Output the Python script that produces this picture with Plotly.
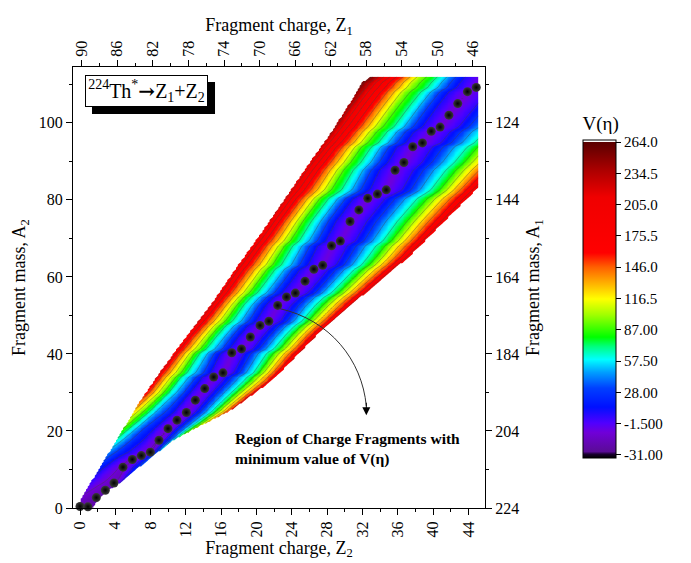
import numpy as np
import plotly.graph_objects as go

# ---- minimum-V(eta) fragments (dots) ----
dot_z2 = [0.0, 0.9, 1.85, 2.87, 3.85, 4.87, 5.93, 6.95, 7.97, 8.95,
          9.97, 10.99, 12.05, 13.07, 14.13, 15.15, 16.2, 17.2, 18.3, 19.3,
          20.4, 21.4, 22.4, 23.4, 24.4, 25.5, 26.5, 27.5, 28.5, 29.5,
          30.6, 31.6, 32.6, 33.7, 34.7, 35.7, 36.7, 37.7, 38.8, 39.8,
          40.8, 41.8, 42.8, 43.9, 44.9, 45.9]
dot_a2 = [0.4, 0.3, 2.7, 4.6, 6.5, 10.6, 12.6, 13.6, 14.5, 17.6,
          20.6, 22.8, 24.8, 28.0, 31.0, 34.0, 35.1, 40.3, 41.3, 44.4,
          47.4, 48.5, 52.6, 54.8, 55.8, 58.9, 62.0, 63.0, 68.1, 69.3,
          74.4, 77.4, 80.4, 81.5, 82.6, 87.7, 89.7, 93.8, 94.8, 97.8,
          98.9, 102.0, 105.0, 108.1, 109.2, 112.5]

# ---- wedge boundaries of the V(eta) map (A2 -> Z2) ----
upper_a = [0, 2.9, 10.6, 19.3, 28, 36.6, 45.3, 53.9, 62.6, 71.2, 79.9, 88.6, 97.2, 105.9, 110.5, 112]
upper_z = [-0.3, 0.15, 2.2, 4.5, 6.8, 9.4, 12.2, 15.1, 17.7, 20.4, 23.0, 25.6, 28.3, 30.7, 31.9, 32.8]
lower_a = [0, 3.4, 6.4, 9.9, 13.3, 16.8, 19.6, 22.4, 25.5, 33.2, 45.5, 55, 65.3, 83.4, 93, 112]
lower_z = [1.5, 2.6, 4.5, 6.4, 8.3, 10.2, 12.3, 14.7, 17.3, 21.9, 27.2, 32, 37.4, 45.3, 49.5, 57.8]
z2_max = 45.3
a2_max = 112

vmin_a = [0, 10, 30, 60, 90, 112]
vmin_v = [-25, -14, -10, -9, -10, -12]
edge_up_a = [0, 3, 10, 15, 19, 24, 30, 50, 70, 90, 105, 112]
edge_up_v = [-20, -12, 15, 45, 75, 115, 165, 195, 205, 220, 240, 255]
edge_lo_a = [0, 2, 8, 14, 18, 22, 26, 40, 60, 83, 100, 112]
edge_lo_v = [-22, -15, 20, 55, 90, 135, 175, 190, 195, 200, 190, 180]
prof_u = [0, 0.17, 0.37, 0.56, 0.71, 0.85, 1.0]
prof_f = [0, 0.08, 0.27, 0.42, 0.60, 0.78, 1.0]

# ---- tick labels ----
z2_ticks = list(range(0, 45, 4))
z1_ticks = list(range(90, 45, -4))
a2_ticks = list(range(0, 101, 20))
a1_ticks = list(range(124, 225, 20))
cb_vals = [-31.0, -1.5, 28.0, 57.5, 87.0, 116.5, 146.0, 175.5, 205.0, 234.5, 264.0]
cb_text = ["-31.00", "-1.500", "28.00", "57.50", "87.00", "116.5", "146.0", "175.5", "205.0", "234.5", "264.0"]

# ---- build the map ----
Zg = np.arange(-0.5, z2_max + 0.001, 0.2)
Ag = np.arange(0, a2_max + 0.001, 0.4)
ZZ, AA = np.meshgrid(Zg, Ag)
valley_a = [0.0] + dot_a2[2:]
valley_z = [0.5] + dot_z2[2:]
zv = np.interp(AA, valley_a, valley_z)
zl = np.interp(AA, upper_a, upper_z)
zr = np.interp(AA, lower_a, lower_z)
vm = np.interp(AA, vmin_a, vmin_v)
vu = np.interp(AA, edge_up_a, edge_up_v)
vl = np.interp(AA, edge_lo_a, edge_lo_v)
u_left = np.clip((zv - ZZ) / np.maximum(zv - zl, 1e-6), 0, 1)
u_right = np.clip((ZZ - zv) / np.maximum(zr - zv, 1e-6), 0, 1)
V = np.where(ZZ <= zv,
             vm + (vu - vm) * np.interp(u_left, prof_u, prof_f),
             vm + (vl - vm) * np.interp(u_right, prof_u, prof_f))
V[(ZZ < zl) | (ZZ > np.minimum(zr, z2_max))] = np.nan

cmin, cmax = -34, 266
colorscale = [
    [0.0, '#000000'], [0.012, '#1a0030'], [0.02, '#5a0c96'], [0.08, '#7000d8'],
    [0.11, '#5000ff'], [0.16, '#0010ff'], [0.22, '#0040ff'], [0.27, '#00a0ff'],
    [0.31, '#00ffff'], [0.35, '#00ff80'], [0.38, '#00ff00'], [0.45, '#a0ff00'],
    [0.50, '#ffff00'], [0.56, '#ffa000'], [0.60, '#ff6000'], [0.645, '#ff0000'],
    [0.82, '#f00000'], [0.90, '#b00000'], [0.993, '#5a0000'], [0.9935, '#ffffff'],
    [1.0, '#ffffff']]

FONT = 'Liberation Serif'
fig = go.Figure()
fig.add_trace(go.Contour(
    x=Zg, y=Ag, z=V, zauto=False, zmin=cmin, zmax=cmax, colorscale=colorscale,
    contours=dict(coloring='heatmap', start=-11.33, end=262, size=19.67, showlines=True),
    line=dict(color='rgba(70,70,70,0.7)', width=0.6),
    showscale=False, connectgaps=False, hoverinfo='skip'))

fig.add_trace(go.Scatter(
    x=dot_z2, y=dot_a2, mode='markers', cliponaxis=False,
    marker=dict(size=9, color='#3a3a3a', gradient=dict(type='radial', color='#000000'),
                line=dict(width=0)),
    showlegend=False))

# companion axes (Z1 = 90 - Z2, A1 = 224 - A2) + colour bar
fig.add_trace(go.Scatter(
    x=[None], y=[None], xaxis='x2', yaxis='y2', mode='markers', showlegend=False,
    marker=dict(color=[cmin, cmax], cmin=cmin, cmax=cmax, colorscale=colorscale, showscale=True,
                colorbar=dict(
                    x=1.2379, xanchor='left', y=0.8957, yanchor='top',
                    lenmode='pixels', len=345, thickness=33, xpad=0, ypad=0,
                    outlinecolor='black', outlinewidth=1,
                    tickmode='array', tickvals=cb_vals, ticktext=cb_text,
                    ticks='outside', ticklen=5, tickcolor='black',
                    tickfont=dict(family=FONT, size=15, color='black'),
                    title=dict(text='V(\u03b7)', side='top', font=dict(family=FONT, size=19, color='black'))))))

axis_common = dict(showline=True, linecolor='black', linewidth=1.3, showgrid=False, zeroline=False,
                   ticks='outside', ticklen=6, tickcolor='black', tickwidth=1.2, automargin=False,
                   tickfont=dict(family=FONT, size=16, color='black'))

# the page body adds an 8 px offset, so the figure is 8 px smaller and the margins are shifted
fig.update_layout(
    width=683, height=555, margin=dict(l=65, r=206, t=59, b=55, autoexpand=False),
    paper_bgcolor='white', plot_bgcolor='white', showlegend=False,
    font=dict(family=FONT, color='black'),
    xaxis=dict(range=[-0.793, 45.89], tickmode='array', tickvals=z2_ticks, tickangle=-90,
               minor=dict(dtick=2, tick0=0, ticks='outside', ticklen=3, tickcolor='black'),
               title=dict(text='Fragment charge, Z<sub>2</sub>', font=dict(family=FONT, size=18), standoff=2),
               **axis_common),
    yaxis=dict(range=[0, 114.5], tickmode='array', tickvals=a2_ticks,
               minor=dict(dtick=10, tick0=0, ticks='outside', ticklen=3, tickcolor='black'),
               title=dict(text='Fragment mass, A<sub>2</sub>', font=dict(family=FONT, size=18), standoff=8),
               **axis_common),
    xaxis2=dict(overlaying='x', side='top', anchor='y', range=[90.98, 44.65], tickmode='array',
                tickvals=z1_ticks, tickangle=-90,
                minor=dict(dtick=2, tick0=90, ticks='outside', ticklen=3, tickcolor='black'),
                title=dict(text='Fragment charge, Z<sub>1</sub>', font=dict(family=FONT, size=18), standoff=4),
                **axis_common),
    yaxis2=dict(overlaying='y', side='right', anchor='x', range=[224, 109.5], tickmode='array',
                tickvals=a1_ticks,
                minor=dict(dtick=10, tick0=224, ticks='outside', ticklen=3, tickcolor='black'),
                title=dict(text='Fragment mass, A<sub>1</sub>', font=dict(family=FONT, size=18), standoff=8),
                **axis_common),
)

# reaction label box with drop shadow
fig.add_shape(type='rect', xref='paper', yref='paper', x0=0.0461, x1=0.3447, y0=0.8934, y1=0.966,
              fillcolor='black', line=dict(width=0))
fig.add_annotation(xref='paper', yref='paper', x=0.0291, y=0.9819, xanchor='left', yanchor='top',
                   text='<sup>224</sup>Th<sup>*</sup><span style="font-family:DejaVu Serif;font-weight:bold">\u2192</span>Z<sub>1</sub>+Z<sub>2</sub>',
                   showarrow=False, font=dict(family=FONT, size=20, color='black'),
                   bgcolor='white', bordercolor='black', borderwidth=1, borderpad=1,
                   width=119, height=28, align='center')

# curved arrow and note
fig.add_shape(type='path', xref='x', yref='y',
              path='M 22.63 51.77 C 28.33 48.83, 31.95 38.44, 32.44 26.5',
              line=dict(color='#333333', width=1))
fig.add_annotation(x=32.44, y=24.08, xref='x', yref='y', ax=0, ay=-14, text='',
                   showarrow=True, arrowhead=2, arrowsize=1.6, arrowwidth=1, arrowcolor='black')
fig.add_annotation(xref='paper', yref='paper', x=0.388, y=0.181, xanchor='left', yanchor='top',
                   text='<b>Region of Charge Fragments with<br>minimum value of V(\u03b7)</b>',
                   showarrow=False, align='left', font=dict(family=FONT, size=15.5, color='black'))

fig.write_html('out.html')
